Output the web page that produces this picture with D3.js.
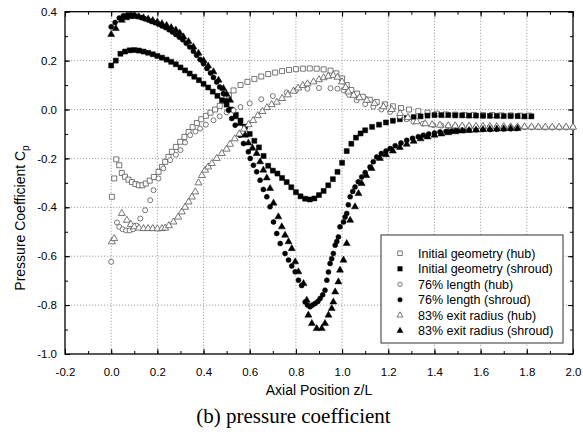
<!DOCTYPE html>
<html>
<head>
<meta charset="utf-8">
<script src="https://cdn.jsdelivr.net/npm/d3@7"></script>
<style>
  body { margin: 0; background: #fff; }
  svg { display: block; }
</style>
</head>
<body>
<svg id="chart" width="583" height="432"></svg>
<script>
// ---------- data ----------
const xTicks = [-0.2, 0.0, 0.2, 0.4, 0.6, 0.8, 1.0, 1.2, 1.4, 1.6, 1.8, 2.0];
const yTicks = [-1.0, -0.8, -0.6, -0.4, -0.2, 0.0, 0.2, 0.4];
const legendLabels = [
  "Initial geometry (hub)", "Initial geometry (shroud)",
  "76% length (hub)", "76% length (shroud)",
  "83% exit radius (hub)", "83% exit radius (shroud)"
];

// Initial geometry (hub) – open squares
const initHubZ = [0.003,0.013,0.022,0.035,0.046,0.06,0.075,0.09,0.105,0.12,0.135,0.15,0.167,0.185,0.205,0.22,0.234,0.248,0.263,0.28,0.299,0.317,0.335,0.353,0.371,0.39,0.41,0.43,0.45,0.47,0.49,0.51,0.53,0.56,0.59,0.62,0.65,0.68,0.71,0.74,0.77,0.80,0.83,0.86,0.89,0.92,0.95,0.975,1.0,1.02,1.04,1.065,1.09,1.12,1.15,1.185,1.22,1.255,1.29,1.33,1.37,1.41,1.45,1.49,1.53,1.57,1.61,1.65,1.69,1.73,1.77,1.81];
const initHubCp = [-0.357,-0.282,-0.204,-0.228,-0.26,-0.275,-0.287,-0.297,-0.305,-0.31,-0.31,-0.303,-0.291,-0.276,-0.255,-0.235,-0.214,-0.194,-0.173,-0.153,-0.132,-0.112,-0.092,-0.072,-0.055,-0.04,-0.026,-0.013,0.0,0.015,0.035,0.058,0.078,0.1,0.113,0.125,0.135,0.145,0.151,0.157,0.162,0.165,0.167,0.168,0.167,0.164,0.159,0.148,0.127,0.1,0.08,0.065,0.052,0.04,0.031,0.021,0.013,0.006,0.0,-0.007,-0.013,-0.017,-0.02,-0.021,-0.022,-0.022,-0.023,-0.023,-0.024,-0.024,-0.025,-0.025];

// Initial geometry (shroud) – filled squares
const initShrZ = [0,0.02,0.04,0.06,0.08,0.10,0.12,0.14,0.16,0.18,0.20,0.22,0.24,0.26,0.28,0.30,0.32,0.34,0.36,0.38,0.40,0.42,0.44,0.46,0.48,0.50,0.52,0.54,0.56,0.58,0.60,0.62,0.64,0.66,0.68,0.70,0.72,0.74,0.76,0.78,0.80,0.82,0.84,0.86,0.88,0.90,0.92,0.94,0.96,0.98,1.00,1.02,1.04,1.06,1.08,1.10,1.13,1.16,1.19,1.22,1.25,1.28,1.31,1.34,1.37,1.40,1.43,1.46,1.49,1.52,1.55,1.58,1.61,1.64,1.67,1.70,1.73,1.76,1.79,1.82];
const initShrCp = [0.18,0.20,0.228,0.237,0.242,0.243,0.241,0.237,0.232,0.226,0.219,0.212,0.204,0.195,0.185,0.172,0.16,0.147,0.134,0.12,0.105,0.09,0.073,0.056,0.038,0.02,0.0,-0.022,-0.045,-0.07,-0.1,-0.128,-0.155,-0.19,-0.23,-0.25,-0.262,-0.28,-0.297,-0.318,-0.338,-0.355,-0.365,-0.368,-0.364,-0.35,-0.333,-0.31,-0.285,-0.255,-0.218,-0.17,-0.14,-0.115,-0.098,-0.085,-0.071,-0.062,-0.053,-0.046,-0.04,-0.035,-0.031,-0.028,-0.025,-0.023,-0.023,-0.023,-0.024,-0.024,-0.025,-0.025,-0.026,-0.026,-0.026,-0.027,-0.027,-0.027,-0.028,-0.028];

// 76% length (hub) – open circles
const lenHubZ = [0,0.025,0.035,0.05,0.065,0.08,0.095,0.11,0.126,0.147,0.169,0.183,0.205,0.226,0.255,0.28,0.30,0.32,0.342,0.365,0.385,0.41,0.443,0.47,0.50,0.53,0.56,0.60,0.65,0.70,0.76,0.80,0.85,0.90,0.95,0.98,1.006,1.03,1.063,1.10,1.135,1.17,1.208,1.25,1.28,1.309,1.35,1.395,1.43,1.46,1.49,1.52,1.55,1.58,1.61,1.64,1.67,1.70,1.73,1.76,1.79,1.82,1.85,1.88,1.91,1.94,1.97,2.0];
const lenHubCp = [-0.623,-0.462,-0.48,-0.49,-0.495,-0.495,-0.49,-0.475,-0.446,-0.412,-0.371,-0.33,-0.282,-0.241,-0.207,-0.185,-0.166,-0.135,-0.105,-0.09,-0.078,-0.062,-0.044,-0.028,-0.012,-0.004,0.01,0.025,0.042,0.055,0.07,0.078,0.085,0.088,0.087,0.085,0.079,0.06,0.038,0.022,0.011,0.0,-0.01,-0.028,-0.04,-0.05,-0.058,-0.064,-0.066,-0.068,-0.069,-0.07,-0.07,-0.071,-0.071,-0.071,-0.072,-0.072,-0.072,-0.073,-0.073,-0.073,-0.073,-0.074,-0.074,-0.074,-0.074,-0.074];

// 76% length (shroud) – filled circles
const lenShrZ = [0,0.017,0.035,0.053,0.07,0.085,0.10,0.115,0.13,0.145,0.16,0.175,0.19,0.205,0.22,0.235,0.25,0.265,0.28,0.295,0.31,0.325,0.34,0.356,0.37,0.385,0.40,0.415,0.43,0.443,0.457,0.47,0.486,0.50,0.508,0.522,0.537,0.558,0.573,0.594,0.602,0.616,0.63,0.645,0.659,0.674,0.688,0.703,0.717,0.732,0.753,0.768,0.782,0.797,0.811,0.825,0.84,0.85,0.861,0.872,0.883,0.895,0.905,0.916,0.926,0.934,0.941,0.948,0.955,0.962,0.97,0.977,0.984,0.991,1.006,1.013,1.02,1.027,1.035,1.046,1.056,1.07,1.085,1.10,1.121,1.135,1.15,1.17,1.19,1.208,1.23,1.255,1.28,1.305,1.33,1.352,1.375,1.40,1.424,1.45,1.475,1.50,1.525,1.55,1.58,1.61,1.641,1.67,1.70,1.73,1.756];
const lenShrCp = [0.338,0.356,0.374,0.383,0.387,0.388,0.386,0.381,0.376,0.371,0.366,0.36,0.355,0.349,0.342,0.335,0.326,0.317,0.307,0.296,0.285,0.271,0.256,0.238,0.222,0.205,0.187,0.168,0.149,0.131,0.112,0.092,0.065,0.035,-0.003,-0.037,-0.064,-0.105,-0.139,-0.173,-0.2,-0.228,-0.255,-0.289,-0.327,-0.357,-0.398,-0.46,-0.507,-0.548,-0.589,-0.616,-0.64,-0.664,-0.698,-0.72,-0.787,-0.8,-0.807,-0.8,-0.793,-0.785,-0.773,-0.758,-0.739,-0.698,-0.665,-0.63,-0.61,-0.589,-0.555,-0.54,-0.521,-0.48,-0.46,-0.44,-0.425,-0.39,-0.357,-0.335,-0.317,-0.296,-0.276,-0.258,-0.235,-0.214,-0.194,-0.18,-0.17,-0.16,-0.148,-0.137,-0.126,-0.118,-0.111,-0.105,-0.1,-0.096,-0.092,-0.09,-0.088,-0.086,-0.085,-0.084,-0.083,-0.082,-0.082,-0.081,-0.08,-0.079,-0.078];

// 83% exit radius (hub) – open triangles
const radHubZ = [0.003,0.013,0.046,0.068,0.085,0.10,0.12,0.14,0.16,0.18,0.20,0.22,0.234,0.25,0.27,0.29,0.306,0.32,0.335,0.35,0.364,0.378,0.393,0.407,0.42,0.436,0.457,0.479,0.50,0.515,0.535,0.555,0.575,0.595,0.615,0.635,0.655,0.675,0.695,0.717,0.74,0.765,0.789,0.81,0.83,0.85,0.876,0.90,0.92,0.94,0.962,0.98,1.0,1.015,1.027,1.05,1.075,1.107,1.14,1.179,1.215,1.251,1.285,1.323,1.36,1.39,1.424,1.46,1.49,1.52,1.55,1.58,1.61,1.64,1.67,1.70,1.73,1.76,1.79,1.82,1.85,1.88,1.91,1.94,1.97,2.0];
const radHubCp = [-0.541,-0.528,-0.425,-0.453,-0.47,-0.48,-0.485,-0.487,-0.487,-0.487,-0.488,-0.487,-0.485,-0.475,-0.46,-0.44,-0.419,-0.4,-0.378,-0.358,-0.337,-0.3,-0.27,-0.248,-0.235,-0.221,-0.2,-0.18,-0.162,-0.142,-0.12,-0.1,-0.08,-0.062,-0.045,-0.025,-0.008,0.008,0.02,0.03,0.045,0.06,0.075,0.088,0.098,0.105,0.113,0.122,0.13,0.136,0.14,0.132,0.113,0.09,0.072,0.058,0.048,0.038,0.025,0.011,0.0,-0.016,-0.033,-0.05,-0.058,-0.062,-0.064,-0.066,-0.067,-0.068,-0.068,-0.069,-0.069,-0.07,-0.07,-0.07,-0.071,-0.071,-0.071,-0.072,-0.072,-0.072,-0.072,-0.072,-0.072,-0.072];

// 83% exit radius (shroud) – filled triangles
const radShrZ = [0,0.02,0.046,0.065,0.085,0.10,0.12,0.14,0.16,0.18,0.20,0.22,0.24,0.26,0.28,0.297,0.313,0.335,0.356,0.378,0.40,0.42,0.443,0.465,0.486,0.50,0.515,0.537,0.558,0.58,0.594,0.612,0.63,0.645,0.659,0.674,0.688,0.703,0.724,0.739,0.753,0.768,0.782,0.797,0.811,0.833,0.847,0.854,0.869,0.89,0.912,0.926,0.941,0.955,0.962,0.97,0.984,0.991,1.006,1.02,1.035,1.056,1.071,1.085,1.105,1.128,1.164,1.19,1.22,1.25,1.28,1.31,1.34,1.37,1.40,1.43,1.46,1.49,1.52,1.55,1.58,1.61,1.64,1.67,1.70,1.73,1.76];
const radShrCp = [0.307,0.331,0.365,0.375,0.38,0.381,0.379,0.375,0.37,0.364,0.358,0.351,0.344,0.335,0.325,0.313,0.297,0.278,0.256,0.23,0.2,0.178,0.154,0.12,0.086,0.062,0.038,-0.03,-0.057,-0.105,-0.137,-0.158,-0.18,-0.214,-0.248,-0.28,-0.323,-0.383,-0.439,-0.48,-0.514,-0.541,-0.569,-0.623,-0.664,-0.712,-0.78,-0.841,-0.875,-0.896,-0.896,-0.875,-0.841,-0.814,-0.787,-0.746,-0.705,-0.657,-0.616,-0.548,-0.453,-0.398,-0.344,-0.303,-0.27,-0.241,-0.2,-0.185,-0.17,-0.155,-0.142,-0.13,-0.12,-0.112,-0.105,-0.1,-0.095,-0.091,-0.088,-0.086,-0.084,-0.082,-0.081,-0.08,-0.079,-0.078,-0.078];

// ---------- chart ----------
const svg = d3.select("#chart");
const pL = 65, pR = 573, pT = 11.7, pB = 354;
const x = d3.scaleLinear().domain([-0.2, 2.0]).range([pL, pR]);
const y = d3.scaleLinear().domain([-1.0, 0.4]).range([pB, pT]);

const series = [
  {z: initHubZ, cp: initHubCp, shape: "square", filled: false},
  {z: initShrZ, cp: initShrCp, shape: "square", filled: true},
  {z: lenHubZ, cp: lenHubCp, shape: "circle", filled: false},
  {z: lenShrZ, cp: lenShrCp, shape: "circle", filled: true},
  {z: radHubZ, cp: radHubCp, shape: "triangle", filled: false},
  {z: radShrZ, cp: radShrCp, shape: "triangle", filled: true}
];

// grid
const grid = svg.append("g");
grid.selectAll("line.gx").data(xTicks.slice(1, -1)).enter().append("line")
  .attr("x1", d => x(d)).attr("x2", d => x(d)).attr("y1", pT).attr("y2", pB)
  .attr("stroke", "#8a8a8a").attr("stroke-width", 0.8).attr("stroke-dasharray", "1.2,1.8");
grid.selectAll("line.gy").data(yTicks.slice(1, -1)).enter().append("line")
  .attr("y1", d => y(d)).attr("y2", d => y(d)).attr("x1", pL).attr("x2", pR)
  .attr("stroke", "#8a8a8a").attr("stroke-width", 0.8).attr("stroke-dasharray", "1.2,1.8");

// axes with inward ticks
const xMinor = d3.range(-0.2, 2.0001, 0.1).map(v => +v.toFixed(2));
const yMinor = d3.range(-1.0, 0.4001, 0.1).map(v => +v.toFixed(2));
function axisGroup(axisFn, transform) {
  const g = svg.append("g").attr("transform", transform).call(axisFn);
  g.select(".domain").remove();
  g.selectAll("line").attr("stroke", "#000").attr("stroke-width", 1);
  return g;
}
const fmt = d => d3.format(".1f")(d).replace("\u2212", "-");
// bottom
axisGroup(d3.axisTop(x).tickValues(xMinor).tickSize(3).tickFormat(""), `translate(0,${pB})`);
const bx = axisGroup(d3.axisTop(x).tickValues(xTicks).tickSize(5).tickFormat(fmt), `translate(0,${pB})`);
bx.selectAll("text").attr("y", 22).attr("dy", 0)
  .style("font-family", "'Liberation Sans', Arial, sans-serif").style("font-size", "11.5px").attr("fill", "#000");
// top
axisGroup(d3.axisBottom(x).tickValues(xMinor).tickSize(3).tickFormat(""), `translate(0,${pT})`);
axisGroup(d3.axisBottom(x).tickValues(xTicks).tickSize(5).tickFormat(""), `translate(0,${pT})`);
// left
axisGroup(d3.axisRight(y).tickValues(yMinor).tickSize(3).tickFormat(""), `translate(${pL},0)`);
const ly = axisGroup(d3.axisRight(y).tickValues(yTicks).tickSize(5).tickFormat(fmt), `translate(${pL},0)`);
ly.selectAll("text").attr("x", -8).attr("text-anchor", "end")
  .style("font-family", "'Liberation Sans', Arial, sans-serif").style("font-size", "11.5px").attr("fill", "#000");
// right
axisGroup(d3.axisLeft(y).tickValues(yMinor).tickSize(3).tickFormat(""), `translate(${pR},0)`);
axisGroup(d3.axisLeft(y).tickValues(yTicks).tickSize(5).tickFormat(""), `translate(${pR},0)`);

// frame
svg.append("rect").attr("x", pL).attr("y", pT).attr("width", pR - pL).attr("height", pB - pT)
  .attr("fill", "none").attr("stroke", "#000").attr("stroke-width", 1.3);

// markers
function drawMarker(sel, shape, filled, size) {
  const fill = filled ? "#000" : "#fff";
  const stroke = filled ? "#000" : "#555";
  const sw = filled ? 0.5 : 0.8;
  let sym;
  if (shape === "square") sym = d3.symbol().type(d3.symbolSquare).size(size * size);
  else if (shape === "circle") sym = d3.symbol().type(d3.symbolCircle).size(Math.PI * (size / 2) * (size / 2));
  else sym = d3.symbol().type(d3.symbolTriangle).size(size * size * 0.43);
  sel.append("path").attr("d", sym).attr("fill", fill).attr("stroke", stroke).attr("stroke-width", sw);
}
const plot = svg.append("g");
series.forEach(s => {
  const g = plot.append("g");
  s.z.forEach((z, i) => {
    const m = g.append("g").attr("transform", `translate(${x(z)},${y(s.cp[i])})`);
    drawMarker(m, s.shape, s.filled, s.shape === "triangle" ? 7 : 5);
  });
});

// legend
const lg = svg.append("g");
lg.append("rect").attr("x", 381).attr("y", 235).attr("width", 182).attr("height", 108)
  .attr("fill", "#fff").attr("stroke", "#333").attr("stroke-width", 1);
legendLabels.forEach((t, i) => {
  const cy = 253.3 + i * 15.5;
  const m = lg.append("g").attr("transform", `translate(400,${cy})`);
  drawMarker(m, series[i].shape, series[i].filled, series[i].shape === "triangle" ? 6 : 4.5);
  lg.append("text").attr("x", 418).attr("y", cy + 4.3).text(t)
    .style("font-family", "'Liberation Sans', Arial, sans-serif").style("font-size", "12.5px").attr("fill", "#000");
});

// axis titles
svg.append("text").attr("x", 319).attr("y", 395).attr("text-anchor", "middle")
  .style("font-family", "'Liberation Sans', Arial, sans-serif").style("font-size", "14px").text("Axial Position z/L");
const yt = svg.append("text").attr("transform", "translate(25,218) rotate(-90)").attr("text-anchor", "middle")
  .style("font-family", "'Liberation Sans', Arial, sans-serif").style("font-size", "14px");
yt.append("tspan").text("Pressure Coefficient C");
yt.append("tspan").attr("dy", 4).style("font-size", "10px").text("p");

// caption
svg.append("text").attr("x", 293.5).attr("y", 423).attr("text-anchor", "middle")
  .style("font-family", "'Liberation Serif', 'Times New Roman', serif").style("font-size", "21px").text("(b) pressure coefficient");
</script>
</body>
</html>
